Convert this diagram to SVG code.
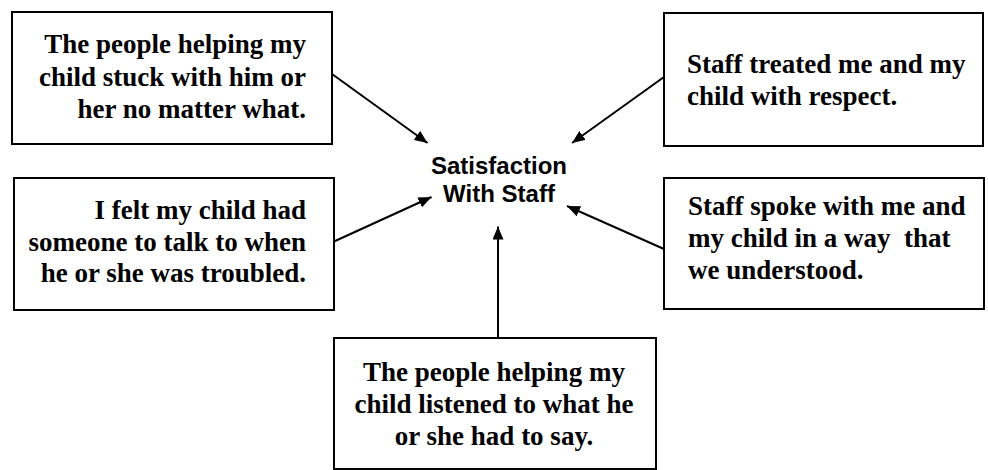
<svg xmlns="http://www.w3.org/2000/svg" width="988" height="470" viewBox="0 0 988 470">
<style>
.box{fill:#fff;stroke:#000;stroke-width:2}
.t{font-family:"Liberation Serif","Times New Roman",serif;font-weight:bold;font-size:27px;fill:#000}
.c{font-family:"Liberation Sans",Arial,sans-serif;font-weight:bold;font-size:24px;fill:#000}
.conn line{stroke:#000;stroke-width:2;fill:none}
</style>
<defs>
<marker id="ah" markerUnits="userSpaceOnUse" markerWidth="13" markerHeight="11" refX="13" refY="5.5" orient="auto">
<path d="M0,0 L13,5.5 L0,11 z" fill="#000"/>
</marker>
</defs>
<rect width="988" height="470" fill="#fff"/>
<g id="n1">
<rect class="box" x="12" y="12" width="320" height="132"/>
<text class="t" text-anchor="end"><tspan x="306" y="53">The people helping my</tspan><tspan x="306" y="85.5">child stuck with him or</tspan><tspan x="306" y="118">her no matter what.</tspan></text>
</g>
<g id="n2">
<rect class="box" x="664" y="13" width="319" height="133"/>
<text class="t"><tspan x="687" y="73">Staff treated me and my</tspan><tspan x="687" y="104.5">child with respect.</tspan></text>
</g>
<g id="n3">
<rect class="box" x="14" y="178" width="320" height="132"/>
<text class="t" text-anchor="end"><tspan x="306" y="218.5">I felt my child had</tspan><tspan x="306" y="250.5">someone to talk to when</tspan><tspan x="306" y="282">he or she was troubled.</tspan></text>
</g>
<g id="n4">
<rect class="box" x="664" y="178" width="320" height="131"/>
<text class="t" style="white-space:pre"><tspan x="688" y="215">Staff spoke with me and</tspan><tspan x="688" y="247">my child in a way  that</tspan><tspan x="688" y="279">we understood.</tspan></text>
</g>
<g id="n5">
<rect class="box" x="334" y="338" width="322" height="131"/>
<text class="t" text-anchor="middle"><tspan x="494" y="380.5">The people helping my</tspan><tspan x="494" y="412.5">child listened to what he</tspan><tspan x="494" y="445">or she had to say.</tspan></text>
</g>
<g id="center">
<text class="c" text-anchor="middle"><tspan x="499" y="174">Satisfaction</tspan><tspan x="499" y="202">With Staff</tspan></text>
</g>
<g id="connectors" class="conn">
<line x1="332" y1="74" x2="427.5" y2="143" marker-end="url(#ah)"/>
<line x1="664" y1="77" x2="572" y2="143" marker-end="url(#ah)"/>
<line x1="334" y1="241.5" x2="431.5" y2="197" marker-end="url(#ah)"/>
<line x1="664" y1="249" x2="567" y2="206" marker-end="url(#ah)"/>
<line x1="498" y1="338" x2="498" y2="226.5" marker-end="url(#ah)"/>
</g>
</svg>
